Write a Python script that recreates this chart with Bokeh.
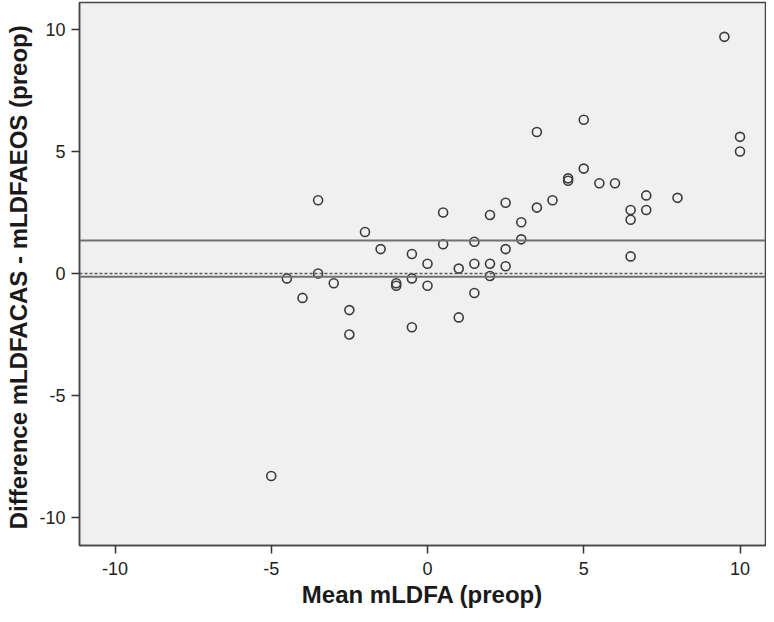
from bokeh.plotting import figure
from bokeh.models import Span, FixedTicker, Range1d, CustomJSTickFormatter
from bokeh.embed import file_html
from bokeh.resources import INLINE

# Bland-Altman data: mean mLDFA (x) vs difference CAS - EOS (y)
mean_mldfa = [9.5, 10, 10, 5, 3.5, 4.5, 4.5, 5, 5.5, 6, 7, 7, 6.5, 6.5, 6.5, 8,
              3, 3, 4, 3.5, -3.5, -2, 0.5, 2, 2.5, -1.5, -0.5, 0.5, 1.5, 2.5,
              0, 1, 1.5, 2, 2.5, 2, -3.5, -4.5, -4, -3, -2.5, -2.5, -1, -1,
              -0.5, 0, -0.5, 1, 1.5, -5]
diff_mldfa = [9.7, 5.6, 5.0, 6.3, 5.8, 3.9, 3.8, 4.3, 3.7, 3.7, 3.2, 2.6, 2.6, 2.2, 0.7, 3.1,
              2.1, 1.4, 3.0, 2.7, 3.0, 1.7, 2.5, 2.4, 2.9, 1.0, 0.8, 1.2, 1.3, 1.0,
              0.4, 0.2, 0.4, 0.4, 0.3, -0.1, 0.0, -0.2, -1.0, -0.4, -1.5, -2.5, -0.4, -0.5,
              -0.2, -0.5, -2.2, -1.8, -0.8, -8.3]

# reference lines
upper_line = 1.35
lower_line = -0.13
zero_line = 0.0

x_ticks = [-10, -5, 0, 5, 10]
y_ticks = [-10, -5, 0, 5, 10]

p = figure(width=766, height=614, output_backend="svg", toolbar_location=None,
           x_range=Range1d(-11.136, 10.816), y_range=Range1d(-11.148, 11.107),
           min_border_left=79, min_border_right=1, min_border_top=2, min_border_bottom=69)

p.background_fill_color = "#f0f0f0"
p.border_fill_color = "white"
p.outline_line_color = "#454545"
p.outline_line_width = 1.5
p.xgrid.visible = False
p.ygrid.visible = False

p.add_layout(Span(location=upper_line, dimension="width", line_color="#707070", line_width=2))
p.add_layout(Span(location=lower_line, dimension="width", line_color="#707070", line_width=2))
p.add_layout(Span(location=zero_line, dimension="width", line_color="#5a5a5a", line_width=1.5,
                  line_dash="3 2"))

p.scatter(mean_mldfa, diff_mldfa, marker="circle", size=9, fill_color=None,
          line_color="#3c3c3c", line_width=1.6)

fmt = CustomJSTickFormatter(code="return tick.toString();")
for ax in (p.xaxis[0], p.yaxis[0]):
    ax.formatter = fmt
    ax.minor_tick_line_color = None
    ax.major_tick_in = 0
    ax.major_tick_out = 8
    ax.major_tick_line_color = "#333333"
    ax.major_tick_line_width = 1.5
    ax.axis_line_color = "#454545"
    ax.axis_line_width = 1.5
    ax.major_label_text_font = "Liberation Sans"
    ax.major_label_text_font_size = "18px"
    ax.major_label_text_color = "#222222"
    ax.axis_label_text_font = "Liberation Sans"
    ax.axis_label_text_font_size = "24px"
    ax.axis_label_text_font_style = "bold"
    ax.axis_label_text_color = "#1a1a1a"

p.xaxis.ticker = FixedTicker(ticks=x_ticks)
p.yaxis.ticker = FixedTicker(ticks=y_ticks)
p.xaxis.axis_label = "Mean mLDFA (preop)"
p.yaxis.axis_label = "Difference  mLDFACAS - mLDFAEOS (preop)"
p.xaxis.major_label_standoff = 8
p.yaxis.major_label_standoff = 6
p.xaxis.axis_label_standoff = 3
p.yaxis.axis_label_standoff = 4

open("out.html", "w").write(file_html(p, INLINE))
